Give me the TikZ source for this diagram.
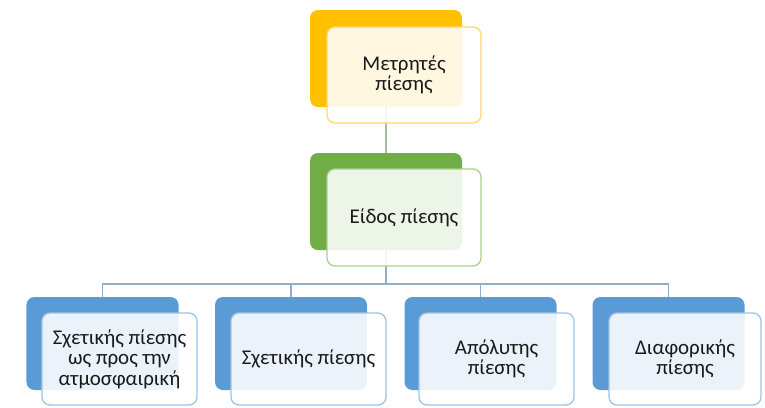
\documentclass[tikz,border=0pt]{standalone}
\usepackage{fontspec}
\setmainfont{Carlito}
\definecolor{yel}{HTML}{FFC000}
\definecolor{yelL}{HTML}{FFD966}
\definecolor{grn}{HTML}{70AD47}
\definecolor{grnL}{HTML}{A9D18E}
\definecolor{blu}{HTML}{5B9BD5}
\definecolor{bluL}{HTML}{9DC3E6}
\definecolor{conA}{HTML}{A8BE9A}
\definecolor{conB}{HTML}{92ACCB}
\definecolor{txt}{HTML}{1A1A1A}
\begin{document}
\begin{tikzpicture}[x=1bp,y=-1bp,
  backbox/.style={rectangle, rounded corners=8bp, inner sep=0pt, outer sep=0pt, minimum width=152bp},
  frontbox/.style={rectangle, rounded corners=8bp, inner sep=0pt, outer sep=0pt, line width=1.3bp,
     fill=white, fill opacity=0.88, text opacity=1, text=txt, align=center,
     font=\fontsize{21}{20.5}\selectfont},
  connA/.style={draw=conA, line width=1.2bp},
  connB/.style={draw=conB, line width=1.2bp}]
\useasboundingbox (0,0) rectangle (765,407);
% back boxes
\node[backbox, fill=yel, minimum height=97bp] (b0) at (386,58.5) {};
\node[backbox, fill=grn, minimum height=97bp] (b1) at (386,201.5) {};
\node[backbox, fill=blu, minimum height=93bp] (c1) at (102.5,343.5) {};
\node[backbox, fill=blu, minimum height=93bp] (c2) at (291,343.5) {};
\node[backbox, fill=blu, minimum height=93bp] (c3) at (480.5,343.5) {};
\node[backbox, fill=blu, minimum height=93bp] (c4) at (668.5,343.5) {};
% connectors
\coordinate (j) at (386,284);
\draw[connA] (b0.south) -- (b1.north);
\draw[connB] (b1.south) -- (j);
\draw[connB] (j) -| (c1.north);
\draw[connB] (j) -| (c2.north);
\draw[connB] (j) -| (c3.north);
\draw[connB] (j) -| (c4.north);
% front boxes
\node[frontbox, draw=yelL, minimum width=154bp, minimum height=96bp] (f0) at (404,75) {Μετρητές\\πίεσης};
\node[frontbox, draw=grnL, minimum width=154bp, minimum height=97bp] (f1) at (404,217.5) {Είδος πίεσης};
\node[frontbox, draw=bluL, minimum width=155bp, minimum height=92bp] (g1) at (119.5,359) {Σχετικής πίεσης\\ως προς την\\ατμοσφαιρική};
\node[frontbox, draw=bluL, minimum width=155bp, minimum height=92bp] (g2) at (308.5,359) {Σχετικής πίεσης};
\node[frontbox, draw=bluL, minimum width=155bp, minimum height=92bp] (g3) at (496.5,359) {Απόλυτης\\πίεσης};
\node[frontbox, draw=bluL, minimum width=152bp, minimum height=92bp] (g4) at (685,359) {Διαφορικής\\πίεσης};
\end{tikzpicture}
\end{document}
